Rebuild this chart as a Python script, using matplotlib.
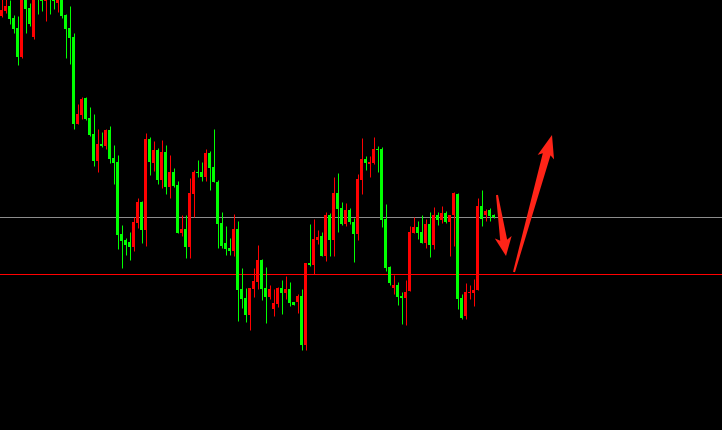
import matplotlib
matplotlib.use("Agg")
import matplotlib.pyplot as plt
import numpy as np
from matplotlib.patches import Polygon

# candle data (price units)
opens = [414, 419, 424, 412, 402, 373, 433, 422, 393, 442, 436, 429, 440, 435, 427, 434,
         415, 402, 393, 306, 315, 332, 312, 296, 269, 286, 284, 300, 272, 268, 196, 190,
         188, 183, 207, 228, 200, 291, 267, 280, 250, 278, 243, 258, 245, 197, 201, 183,
         236, 258, 258, 253, 277, 263, 248, 207, 187, 182, 179, 201, 141, 132, 115, 141,
         148, 170, 142, 133, 121, 126, 142, 137, 141, 128, 128, 134, 85, 167, 165, 190,
         194, 174, 215, 190, 237, 222, 206, 220, 208, 196, 250, 271, 266, 267, 281, 281,
         211, 163, 142, 145, 134, 132, 139, 197, 203, 198, 187, 206, 185, 215, 210, 217,
         208, 215, 236, 132, 114, 137, 137, 140, 224, 215, 220, 215]
highs = [433, 432, 430, 415, 414, 438, 436, 427, 436, 445, 438, 438, 442, 438, 435, 436,
         416, 424, 397, 326, 333, 333, 323, 316, 301, 298, 301, 304, 285, 275, 205, 192,
         198, 213, 232, 229, 297, 293, 289, 282, 290, 285, 275, 262, 249, 215, 215, 252,
         260, 270, 268, 281, 279, 301, 250, 218, 204, 192, 216, 209, 162, 142, 142, 162,
         185, 171, 163, 145, 141, 143, 150, 154, 148, 128, 136, 141, 167, 206, 211, 200,
         198, 218, 217, 253, 257, 228, 227, 222, 212, 256, 292, 274, 274, 293, 284, 283,
         226, 164, 155, 148, 138, 150, 204, 213, 209, 215, 211, 218, 223, 218, 224, 219,
         215, 238, 237, 136, 147, 145, 151, 232, 240, 221, 222, 216]
lows = [413, 417, 406, 397, 365, 372, 397, 404, 391, 416, 419, 409, 416, 421, 418, 412,
        372, 366, 301, 306, 311, 310, 294, 264, 258, 283, 281, 267, 246, 181, 162, 175,
        170, 179, 202, 187, 184, 255, 259, 246, 242, 236, 232, 243, 197, 194, 172, 172,
        213, 253, 249, 249, 240, 248, 182, 182, 175, 175, 174, 109, 122, 108, 100, 133,
        141, 130, 107, 131, 114, 123, 116, 131, 124, 125, 117, 80, 80, 164, 156, 186,
        174, 169, 174, 174, 198, 205, 204, 206, 168, 190, 236, 260, 253, 266, 258, 203,
        159, 145, 136, 125, 106, 105, 139, 197, 191, 187, 182, 173, 181, 205, 207, 207,
        174, 184, 121, 111, 111, 131, 124, 140, 204, 209, 209, 212]
closes = [420, 424, 411, 401, 373, 434, 421, 406, 433, 432, 429, 435, 432, 429, 432, 414,
          401, 392, 306, 316, 331, 311, 295, 269, 286, 284, 300, 271, 267, 195, 189, 185,
          183, 208, 228, 200, 291, 268, 280, 250, 278, 243, 258, 244, 197, 201, 183, 237,
          258, 257, 253, 277, 262, 248, 206, 184, 181, 179, 201, 140, 131, 115, 142, 149,
          170, 141, 133, 141, 127, 142, 137, 141, 127, 125, 134, 85, 167, 165, 191, 193,
          174, 215, 190, 237, 221, 206, 220, 208, 196, 251, 271, 267, 268, 281, 280, 210,
          162, 147, 145, 133, 132, 138, 198, 203, 197, 187, 206, 185, 215, 210, 217, 208,
          215, 237, 131, 112, 138, 138, 140, 224, 211, 219, 214, 213]

resistance = 213
support = 156

# hand drawn arrows: (tail, tip) in (bar index, price)
arrow_down = ((124.25, 235), (126.5, 174))
arrow_up = ((128.5, 158), (138.0, 295))

up_color = "#ff0000"
down_color = "#00ff00"

fig = plt.figure(figsize=(7.22, 4.30), dpi=100, facecolor="black")
ax = fig.add_axes([0, 0, 1, 1])
ax.set_xlim(0, 180.5)
ax.set_ylim(0, 430)
ax.axis("off")

o = np.array(opens)
h = np.array(highs)
l = np.array(lows)
c = np.array(closes)
x = np.arange(len(o)) + 0.375
cols = np.where(c >= o, up_color, down_color)

ax.axhline(resistance, color="#8c8c8c", lw=0.72, zorder=1)
ax.axhline(support, color="#ff0000", lw=0.72, zorder=1)

ax.vlines(x, l, h, colors=cols, lw=0.72, zorder=2)
body = np.maximum(np.abs(c - o), 1.5)
ax.bar(x, body, bottom=np.minimum(o, c), width=0.75, color=cols,
       linewidth=0, zorder=3)


def taper_arrow(start, end, w0, w1, head_len, head_w, back=3):
    # build the arrow in pixel space, then go back to data coords
    p0 = ax.transData.transform(start)
    p1 = ax.transData.transform(end)
    u = (p1 - p0) / np.hypot(*(p1 - p0))
    n = np.array([-u[1], u[0]])
    base = p1 - u * head_len
    pts = [p0 + n * w0 / 2, base + n * w1 / 2, base - u * back + n * head_w / 2, p1,
           base - u * back - n * head_w / 2, base - n * w1 / 2, p0 - n * w0 / 2]
    pts = ax.transData.inverted().transform(np.array(pts))
    ax.add_patch(Polygon(pts, closed=True, color="#ff2418", lw=0, zorder=5))


taper_arrow(*arrow_down, w0=2, w1=7, head_len=16, head_w=17)
taper_arrow(*arrow_up, w0=2, w1=8, head_len=20, head_w=17)

fig.savefig("out.png", dpi=100, facecolor="black")
